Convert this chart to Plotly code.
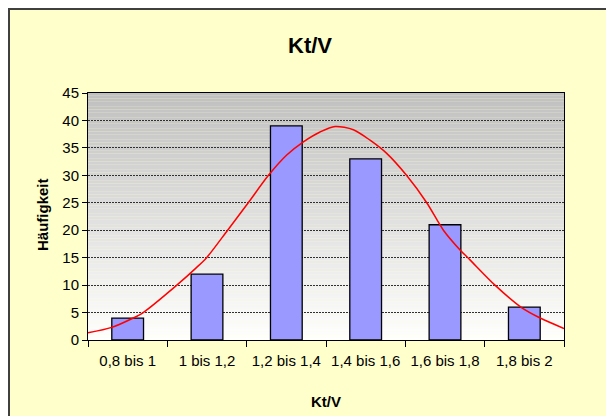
import plotly.graph_objects as go

# ---- data ----
categories = ["0,8 bis 1", "1 bis 1,2", "1,2 bis 1,4", "1,4 bis 1,6", "1,6 bis 1,8", "1,8 bis 2"]
counts = [4, 12, 39, 33, 21, 6]

# fitted curve (Kt/V value, frequency)
curve_ktv = [0.800, 0.860, 0.914, 0.939, 1.024, 1.072, 1.099, 1.152, 1.204, 1.255,
             1.301, 1.343, 1.385, 1.423, 1.469, 1.511, 1.553, 1.603, 1.654, 1.696,
             1.738, 1.763, 1.826, 1.893, 1.940, 2.000]
curve_freq = [1.3, 2.3, 4.0, 5.0, 10.0, 13.1, 15.0, 20.0, 25.0, 30.0,
              33.7, 36.1, 37.9, 38.9, 38.3, 36.4, 34.0, 30.0, 25.0, 20.0,
              16.4, 14.6, 10.0, 5.9, 4.0, 2.1]

y_ticks = [0, 5, 10, 15, 20, 25, 30, 35, 40, 45]

FONT = "Liberation Sans, Arial, sans-serif"

W, H = 606, 416
L, R, T, B = 88, 564, 93, 340

fig = go.Figure()
fig.add_trace(go.Bar(
    x=categories, y=counts, width=0.4,
    marker=dict(color="#9999FF", line=dict(color="#000000", width=1.3)),
    showlegend=False, hoverinfo="skip",
))
fig.add_trace(go.Scatter(
    x=curve_ktv, y=curve_freq, xaxis="x2", mode="lines",
    line=dict(color="#FF0000", width=1.5, shape="spline", smoothing=0.8),
    showlegend=False, hoverinfo="skip",
))

pw, ph = R - L, B - T
px = lambda v: (v - L) / pw      # figure pixel -> paper x
py = lambda v: (B - v) / ph      # figure pixel -> paper y
shapes = []
# white strips outside the chart area (left and top)
shapes.append(dict(type="rect", xref="paper", yref="paper", x0=px(0), x1=px(W),
                   y0=py(8), y1=py(0), fillcolor="#FFFFFF", line=dict(width=0), layer="below"))
shapes.append(dict(type="rect", xref="paper", yref="paper", x0=px(0), x1=px(8),
                   y0=py(H), y1=py(0), fillcolor="#FFFFFF", line=dict(width=0), layer="below"))
# chart area border (left and top edges)
shapes.append(dict(type="line", xref="paper", yref="paper", x0=px(9), x1=px(9),
                   y0=py(H), y1=py(8), line=dict(color="#404040", width=2), layer="below"))
shapes.append(dict(type="line", xref="paper", yref="paper", x0=px(8), x1=px(W),
                   y0=py(9), y1=py(9), line=dict(color="#404040", width=2), layer="below"))
# gray-to-white gradient in plot area
steps = 90
ymax = y_ticks[-1]
for i in range(steps):
    y0 = ymax * i / steps
    y1 = ymax * (i + 1) / steps
    t = (i + 0.5) / steps
    g = round(255 - (255 - 192) * t)
    shapes.append(dict(type="rect", xref="paper", yref="y", x0=0, x1=1, y0=y0, y1=y1,
                       fillcolor=f"rgb({g},{g},{g})", line=dict(width=0), layer="below"))

fig.update_layout(
    width=W, height=H,
    margin=dict(l=L, r=W - R, t=T, b=H - B),
    paper_bgcolor="#FFFFCC", plot_bgcolor="rgba(0,0,0,0)",
    font=dict(family=FONT, size=15, color="#000000"),
    bargap=0.6,
    shapes=shapes,
    title=dict(text="<b>Kt/V</b>", x=310 / W, xref="container", xanchor="center",
               y=1 - 45 / H, yref="container", yanchor="middle",
               font=dict(family=FONT, size=22, color="#000000")),
    xaxis=dict(
        type="category", range=[-0.5, 5.5], tickson="boundaries",
        ticks="outside", ticklen=6, tickcolor="#000000", tickwidth=1,
        showline=True, linecolor="#000000", linewidth=1, mirror=True,
        showgrid=False, tickfont=dict(size=15), ticklabelstandoff=7,
    ),
    xaxis2=dict(overlaying="x", range=[0.8, 2.0], visible=False, showgrid=False),
    yaxis=dict(
        range=[0, 45], tickvals=y_ticks, ticks="outside", ticklen=5,
        tickcolor="#000000", showline=True, linecolor="#000000", linewidth=1,
        mirror=True, showgrid=True, gridcolor="#303030", gridwidth=1,
        griddash="2px,1px", zeroline=False, tickfont=dict(size=15),
    ),
    annotations=[
        dict(text="<b>Häufigkeit</b>", xref="paper", yref="paper",
             x=px(42), y=py(215), textangle=-90,
             showarrow=False, xanchor="center", yanchor="middle",
             font=dict(family=FONT, size=15)),
        dict(text="<b>Kt/V</b>", xref="paper", yref="paper",
             x=0.5, y=py(401), showarrow=False,
             xanchor="center", yanchor="middle", font=dict(family=FONT, size=15)),
    ],
)

fig.write_html("out.html",
               config={"displayModeBar": False},
               post_script="document.body.style.margin='0';document.body.style.overflow='hidden';")
